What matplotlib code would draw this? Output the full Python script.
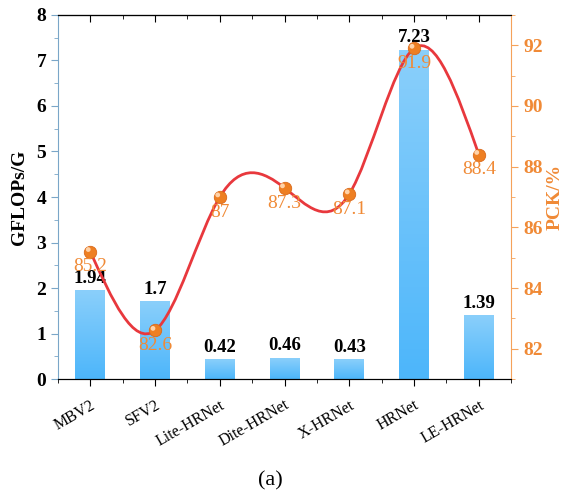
import numpy as np
import matplotlib.pyplot as plt
from matplotlib.path import Path
from matplotlib.patches import PathPatch
from matplotlib.ticker import MultipleLocator
from matplotlib import transforms

plt.rcParams['font.family'] = ['Liberation Serif', 'DejaVu Serif']

models = ["MBV2", "SFV2", "Lite-HRNet", "Dite-HRNet", "X-HRNet", "HRNet", "LE-HRNet"]
gflops = [1.94, 1.7, 0.42, 0.46, 0.43, 7.23, 1.39]
gflops_labels = ["1.94", "1.7", "0.42", "0.46", "0.43", "7.23", "1.39"]
pck = [85.2, 82.6, 87.0, 87.3, 87.1, 91.9, 88.4]
pck_labels = ["85.2", "82.6", "87", "87.3", "87.1", "91.9", "88.4"]

blue_axis = "#7AA6C8"
orange = "#F08A36"
orange_axis = "#F5A25A"

fig = plt.figure(figsize=(5.68, 4.93), dpi=100)
ax = fig.add_axes([0.102, 0.2312, 0.798, 0.7384])
x = np.arange(len(models))
w = 0.46

# bars with a vertical gradient (light top, darker bottom)
grad = np.linspace(0, 1, 100).reshape(-1, 1)
cmap = plt.matplotlib.colors.LinearSegmentedColormap.from_list("b", ["#4DB6FA", "#8ACFFB"])
bars = ax.bar(x, gflops, width=w, color="none", edgecolor="none")
for b in bars:
    x0, y0 = b.get_x(), b.get_y()
    ax.imshow(grad, cmap=cmap, aspect="auto", origin="lower",
              extent=[x0, x0 + b.get_width(), y0, y0 + b.get_height()], zorder=1)
for xi, v, lab in zip(x, gflops, gflops_labels):
    ax.text(xi, v + 0.08, lab, ha="center", va="bottom", fontsize=13.5,
            fontweight="bold", color="black", zorder=5)

ax.set_xlim(-0.5, len(models) - 0.5)
ax.set_ylim(0, 8)
ax.set_xticks(x)
ax.set_xticklabels(models, rotation=30, fontsize=11.5, ha="right", va="top",
                   rotation_mode="anchor")
ax.xaxis.set_minor_locator(MultipleLocator(0.5))
ax.tick_params(axis="x", which="major", direction="out", length=5, color="black", pad=8)
ax.tick_params(axis="x", which="minor", direction="out", length=3)
ax.yaxis.set_major_locator(MultipleLocator(1))
ax.yaxis.set_minor_locator(MultipleLocator(0.5))
ax.tick_params(axis="y", which="major", length=5, color=blue_axis, labelsize=14)
ax.tick_params(axis="y", which="minor", length=3, color=blue_axis)
for t in ax.get_yticklabels():
    t.set_fontweight("bold")
ax.spines["left"].set_color(blue_axis)
ax.spines["right"].set_visible(False)
ax.set_ylabel("GFLOPs/G", fontsize=14, fontweight="bold", labelpad=6)

# top axis: ticks pointing inward, no labels
top = ax.secondary_xaxis("top")
top.set_xticks(x)
top.xaxis.set_minor_locator(MultipleLocator(0.5))
top.tick_params(axis="x", which="major", direction="in", length=5, labeltop=False)
top.tick_params(axis="x", which="minor", direction="in", length=3)

# secondary axis for PCK
ax2 = ax.twinx()
ax2.set_ylim(81, 93)
ax2.yaxis.set_major_locator(MultipleLocator(2))
ax2.yaxis.set_minor_locator(MultipleLocator(1))
ax2.tick_params(axis="y", which="major", length=5, color=orange_axis, labelsize=14,
                labelcolor=orange)
ax2.tick_params(axis="y", which="minor", length=3, color=orange_axis)
for t in ax2.get_yticklabels():
    t.set_fontweight("bold")
ax2.spines["right"].set_color(orange_axis)
ax2.spines["left"].set_visible(False)
ax2.set_ylabel("PCK/%", fontsize=14, fontweight="bold", color=orange, labelpad=3)

# smooth curve: natural cubic spline drawn as Bezier segments
xs = x.astype(float)
ys = np.array(pck)
n = len(xs)
h = np.diff(xs)
A = np.zeros((n, n))
r = np.zeros(n)
A[0, 0] = A[-1, -1] = 1
for i in range(1, n - 1):
    A[i, i - 1] = h[i - 1]
    A[i, i] = 2 * (h[i - 1] + h[i])
    A[i, i + 1] = h[i]
    r[i] = 6 * ((ys[i + 1] - ys[i]) / h[i] - (ys[i] - ys[i - 1]) / h[i - 1])
M = np.linalg.solve(A, r)
d = np.zeros(n)
for i in range(n - 1):
    d[i] = (ys[i + 1] - ys[i]) / h[i] - h[i] * (2 * M[i] + M[i + 1]) / 6
d[-1] = (ys[-1] - ys[-2]) / h[-1] + h[-1] * (M[-2] + 2 * M[-1]) / 6
verts = [(xs[0], ys[0])]
codes = [Path.MOVETO]
for i in range(n - 1):
    verts += [(xs[i] + h[i] / 3, ys[i] + d[i] * h[i] / 3),
              (xs[i + 1] - h[i] / 3, ys[i + 1] - d[i + 1] * h[i] / 3),
              (xs[i + 1], ys[i + 1])]
    codes += [Path.CURVE4] * 3
ax2.add_patch(PathPatch(Path(verts, codes), facecolor="none", edgecolor="#E8383D",
                        lw=2, zorder=3))

ax2.scatter(x, pck, s=80, color="#EE7F22", edgecolor="#D9691A", linewidth=0.6, zorder=4)
hl = transforms.offset_copy(ax2.transData, fig=fig, x=-1.5, y=1.5, units="points")
ax2.scatter(x, pck, s=12, color="#FFD2A8", edgecolor="none", zorder=5, transform=hl)

for xi, v, lab in zip(x, pck, pck_labels):
    ax2.text(xi, v - 0.22, lab, ha="center", va="top", fontsize=14, color=orange, zorder=6)

fig.text(0.476, 0.006, "(a)", ha="center", va="bottom", fontsize=16)

fig.savefig("out.png", dpi=100)
